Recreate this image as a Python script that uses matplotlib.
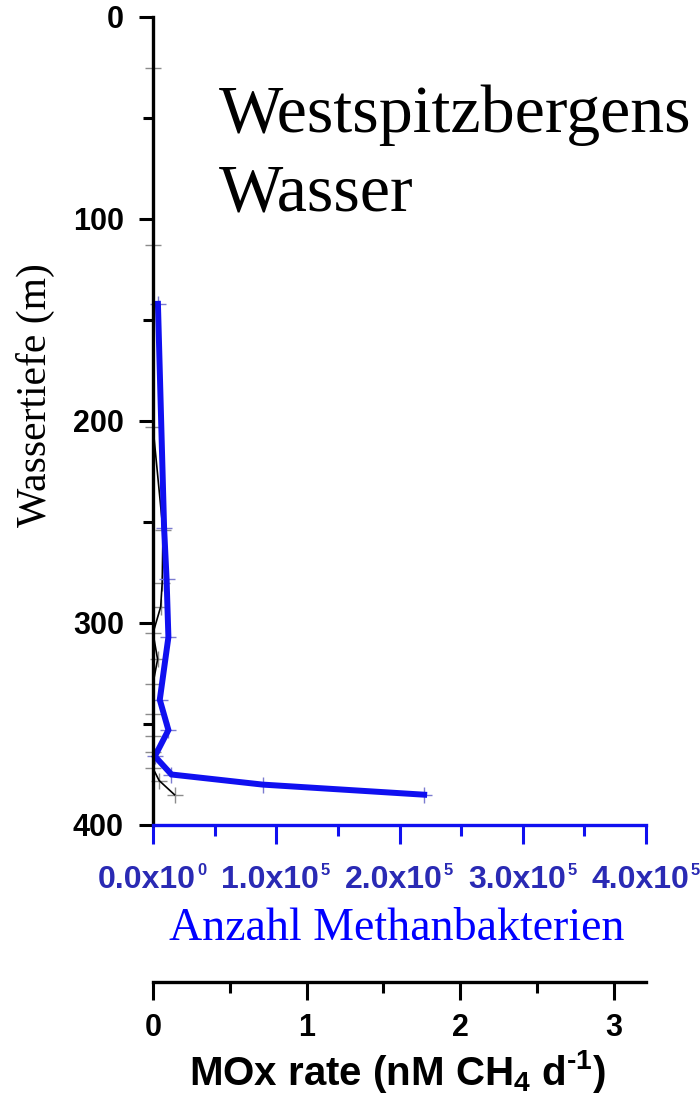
import matplotlib as mpl
mpl.use('Agg')
import matplotlib.pyplot as plt
from matplotlib.ticker import MultipleLocator

mpl.rcParams['mathtext.fontset'] = 'custom'
mpl.rcParams['mathtext.rm'] = 'Liberation Sans:bold'
mpl.rcParams['mathtext.it'] = 'Liberation Sans:bold'
mpl.rcParams['mathtext.bf'] = 'Liberation Sans:bold'
mpl.rcParams['mathtext.default'] = 'rm'

SANS = 'Liberation Sans'
SERIF = 'Liberation Serif'
BLUE = '#1010f0'
TICKBLUE = '#2a2ab4'

# methanotroph cell counts vs. water depth
cell_depth = [142, 253, 278, 307, 338, 353, 366, 375, 380, 385]
cell_count = [4.0e3, 9.0e3, 1.1e4, 1.25e4, 5.5e3, 1.25e4, 1.5e3, 1.5e4, 8.9e4, 2.2e5]

# methane oxidation rate vs. water depth
mox_depth = [25, 113, 203, 254, 280, 292, 305, 318, 330, 345, 356, 364, 372, 378, 385]
mox_rate = [0.0, 0.0, 0.0, 0.065, 0.06, 0.05, 0.0, 0.03, 0.0, 0.0, 0.0, 0.0, 0.0, 0.04, 0.14]

count_ticks = [0, 1e5, 2e5, 3e5, 4e5]
count_mant = ['0.0', '1.0', '2.0', '3.0', '4.0']
count_exp = ['0', '5', '5', '5', '5']

W, H = 700, 1095
fig = plt.figure(figsize=(W / 100, H / 100), dpi=100)
ax = fig.add_axes([153 / W, 1 - 825 / H, (646 - 153) / W, (825 - 17) / H])
ax2 = ax.twiny()

# MOx profile (black, thin) on the secondary axis
ax2.plot(mox_rate, mox_depth, ls='none', marker='+', ms=12, mew=1.0,
         color='#8c8c8c', clip_on=False, zorder=1)
ax2.plot(mox_rate, mox_depth, color='black', lw=1.2, clip_on=False, zorder=2)
ax2.set_xlim(0, 3.21)

# cell counts (blue, thick)
ax.plot(cell_count, cell_depth, ls='none', marker='+', ms=12, mew=1.0,
        color='#7c7cd0', clip_on=False, zorder=1)
ax.plot(cell_count, cell_depth, color=BLUE, lw=4.3, solid_joinstyle='miter',
        clip_on=False, zorder=2)
ax.set_xlim(0, 4e5)
ax.set_ylim(400, 0)

ax.set_zorder(ax2.get_zorder() + 1)
ax.patch.set_visible(False)

# depth axis
for s in ['top', 'right']:
    ax.spines[s].set_visible(False)
ax.spines['left'].set_linewidth(2.4)
ax.spines['left'].set_color('black')
ax.set_yticks([0, 100, 200, 300, 400])
ax.yaxis.set_minor_locator(MultipleLocator(50))
ax.tick_params(axis='y', which='major', length=10, width=2.2, pad=11,
               labelsize=22)
ax.tick_params(axis='y', which='minor', length=7, width=2.2)
for lab in ax.get_yticklabels():
    lab.set_fontfamily(SANS)
    lab.set_fontweight('bold')

# cell count axis, labels written as mantissa + small raised exponent
ax.spines['bottom'].set_linewidth(2.4)
ax.spines['bottom'].set_color(BLUE)
ax.set_xticks(count_ticks)
ax.set_xticklabels([])
ax.xaxis.set_minor_locator(MultipleLocator(0.5e5))
ax.tick_params(axis='x', which='major', length=14, width=2.2, color=BLUE)
ax.tick_params(axis='x', which='minor', length=8, width=2.2, color=BLUE)
for t, m, e in zip(count_ticks, count_mant, count_exp):
    ax.annotate(m + 'x10', xy=(t, 0), xycoords=('data', 'axes fraction'),
                xytext=(31, -45.5), textcoords='offset points',
                ha='right', va='baseline', color=TICKBLUE, fontsize=23,
                fontfamily=SANS, fontweight='bold')
    ax.annotate(e, xy=(t, 0), xycoords=('data', 'axes fraction'),
                xytext=(32, -36), textcoords='offset points',
                ha='left', va='baseline', color=TICKBLUE, fontsize=12,
                fontfamily=SANS, fontweight='bold')

# MOx axis moved below
for s in ['top', 'right', 'left']:
    ax2.spines[s].set_visible(False)
ax2.xaxis.set_ticks_position('bottom')
ax2.spines['bottom'].set_position(('outward', 157 * 0.72))
ax2.spines['bottom'].set_linewidth(2.4)
ax2.set_xticks([0, 1, 2, 3])
ax2.xaxis.set_minor_locator(MultipleLocator(0.5))
ax2.tick_params(axis='x', which='major', length=13, width=2.2, pad=9,
                labelsize=22)
ax2.tick_params(axis='x', which='minor', length=8, width=2.2)
for lab in ax2.get_xticklabels():
    lab.set_fontfamily(SANS)
    lab.set_fontweight('bold')

fig.text(398 / W, 1 - 1085 / H, r'MOx rate (nM CH$_4$ d$^{\text{-}1}$)',
         ha='center', va='baseline', fontsize=29, fontfamily=SANS,
         fontweight='bold')
fig.text(397 / W, 1 - 940 / H, 'Anzahl Methanbakterien', color='#0000ff',
         ha='center', va='baseline', fontsize=33, fontfamily=SERIF)
fig.text(35 / W, 1 - 395 / H, 'Wassertiefe (m)', rotation=90,
         ha='center', va='center', fontsize=30, fontfamily=SERIF)
fig.text(219 / W, 1 - 132 / H, 'Westspitzbergens', ha='left',
         va='baseline', fontsize=49, fontfamily=SERIF)
fig.text(219 / W, 1 - 210 / H, 'Wasser', ha='left',
         va='baseline', fontsize=49, fontfamily=SERIF)

fig.savefig('out.png', dpi=100)
